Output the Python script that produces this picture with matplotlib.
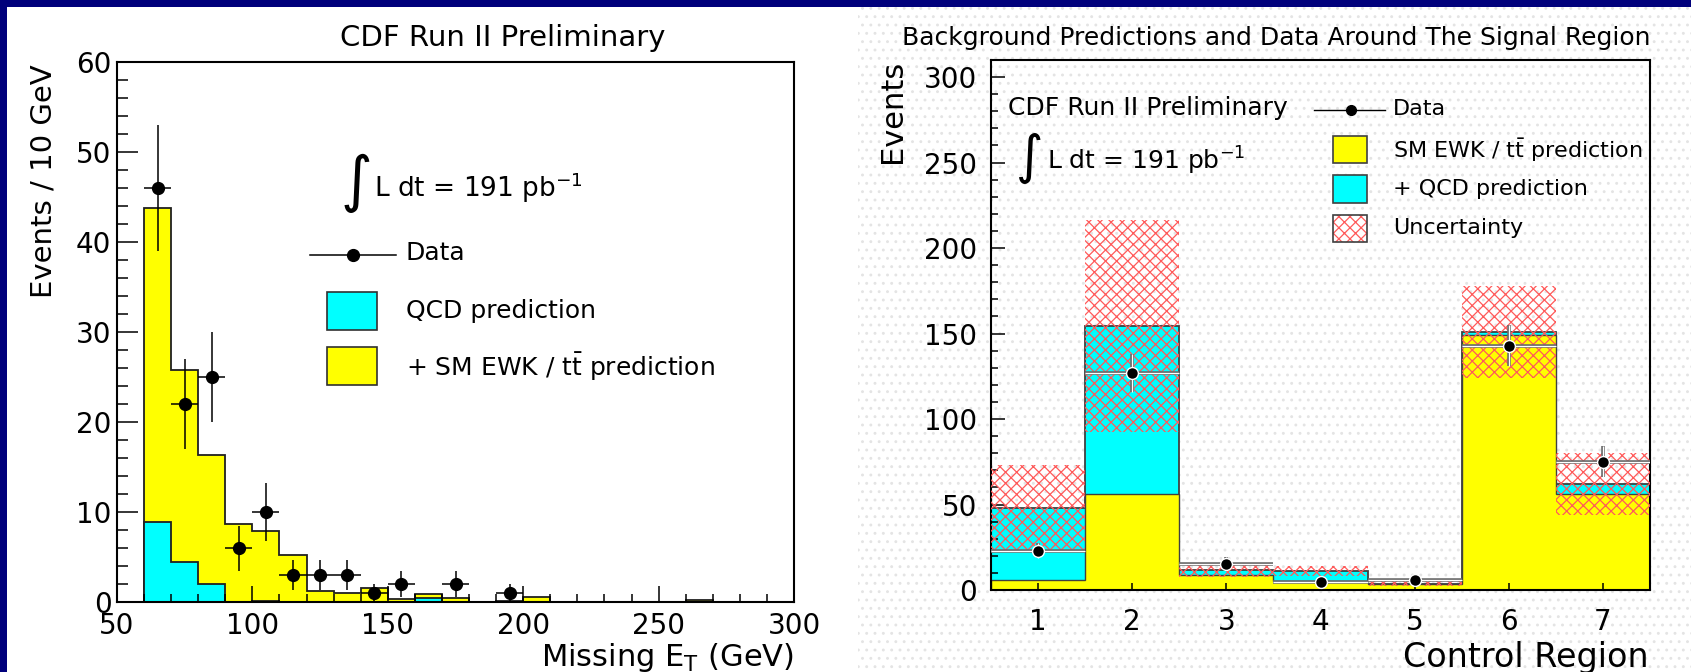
import numpy as np
import matplotlib
matplotlib.use("Agg")
import matplotlib.pyplot as plt
from matplotlib.patches import Rectangle
from matplotlib.lines import Line2D
from matplotlib.ticker import MultipleLocator

W, H = 1691, 672

# left panel: missing ET, 10 GeV bins from 60 to 300
met_edges = np.arange(60, 301, 10)
met_total = [43.8, 25.8, 16.3, 8.7, 7.9, 5.2, 1.2, 1.0, 1.6, 0.3, 0.9, 0.5,
             0, 0.1, 0.6, 0, 0, 0, 0, 0, 0.2, 0, 0, 0]
met_qcd = [8.9, 4.5, 2.0, 0, 0.1, 0, 0, 0, 0, 0, 0.4, 0,
           0, 0, 0, 0, 0, 0, 0, 0, 0, 0, 0, 0]
met_x = [65, 75, 85, 95, 105, 115, 125, 135, 145, 155, 175, 195]
met_y = [46, 22, 25, 6, 10, 3, 3, 3, 1, 2, 2, 1]
met_err = [7, 5, 5, 2.5, 3.2, 1.7, 1.7, 1.7, 1, 1.4, 1.4, 1]

# right panel: control regions
cr = [1, 2, 3, 4, 5, 6, 7]
cr_edges = [0.5, 1.5, 2.5, 3.5, 4.5, 5.5, 6.5, 7.5]
cr_ewk = [6, 56, 8.5, 5.5, 3.5, 149, 56]
cr_total = [48, 154.5, 11.5, 11, 3.8, 151, 62]
cr_unc = [25, 62, 4, 3, 1.2, 27, 18]
cr_data = [23, 127, 15.5, 4.5, 6, 143, 75]
cr_err = [4.5, 11, 4, 2, 2.5, 12, 9]

YEL = "#ffff00"
CYA = "#00ffff"
HATCH = "#ff5a5a"
plt.rcParams["hatch.linewidth"] = 0.9


def fx(x):
    return x / W


def fy(y):
    return 1 - y / H


fig = plt.figure(figsize=(W / 100, H / 100), dpi=100, facecolor="#00007b")
fig.patches.append(Rectangle((fx(7), 0), fx(858 - 7), fy(7), transform=fig.transFigure,
                             facecolor="white", lw=0, zorder=-2))
fig.patches.append(Rectangle((fx(858), 0), 1 - fx(858), fy(7), transform=fig.transFigure,
                             facecolor="white", edgecolor="#e4e4e4", hatch="..", lw=0, zorder=-2))

# ---------------- left panel ----------------
axL = fig.add_axes([fx(117), fy(602), fx(794 - 117), (602 - 62) / H])
axL.stairs(met_total, met_edges, fill=True, color=YEL, lw=0)
axL.stairs(met_total, met_edges, color="#202020", lw=1.3)
axL.stairs(met_qcd, met_edges, fill=True, color=CYA, lw=0)
axL.stairs(met_qcd, met_edges, color="#202020", lw=1.3)
axL.errorbar(met_x, met_y, yerr=met_err, xerr=5, fmt="o", color="black", ms=8.5,
             elinewidth=1.1, capsize=0, zorder=5)
axL.set_xlim(50, 300)
axL.set_ylim(0, 60)
axL.xaxis.set_major_locator(MultipleLocator(50))
axL.xaxis.set_minor_locator(MultipleLocator(10))
axL.yaxis.set_major_locator(MultipleLocator(10))
axL.yaxis.set_minor_locator(MultipleLocator(2))
axL.tick_params(direction="in", which="both", top=False, right=False, labelsize=20, width=1.1)
axL.tick_params(axis="y", which="major", length=15, pad=4)
axL.tick_params(axis="y", which="minor", length=8)
axL.tick_params(axis="x", which="major", length=11.5, pad=7)
axL.tick_params(axis="x", which="minor", length=6)
for s in axL.spines.values():
    s.set_linewidth(1.5)

fig.text(fx(503), fy(38), "CDF Run II Preliminary", fontsize=21, ha="center", va="center")
fig.text(fx(43.5), fy(64), "Events / 10 GeV", fontsize=21, rotation=90, ha="center", va="top")
fig.text(fx(794), fy(657), r"Missing E$_{\mathrm{T}}$ (GeV)", fontsize=22, ha="right", va="center")

fig.text(fx(356), fy(183), "\u222b", fontsize=44, ha="center", va="center")
fig.text(fx(374), fy(197), r"L dt = 191 pb$^{-1}$", fontsize=19, ha="left", va="baseline")
fig.add_artist(Line2D([fx(310), fx(396)], [fy(255), fy(255)], color="black", lw=1.1))
fig.add_artist(Line2D([fx(353)], [fy(255)], marker="o", color="black", ms=8.5))
fig.text(fx(406), fy(253), "Data", fontsize=18, ha="left", va="center")
fig.patches.append(Rectangle((fx(327), fy(330)), fx(50), 38 / H, transform=fig.transFigure,
                             facecolor=CYA, edgecolor="#303030", lw=1.2))
fig.text(fx(406), fy(311), "QCD prediction", fontsize=18, ha="left", va="center")
fig.patches.append(Rectangle((fx(327), fy(385)), fx(50), 38 / H, transform=fig.transFigure,
                             facecolor=YEL, edgecolor="#303030", lw=1.2))
fig.text(fx(406), fy(367), r"+ SM EWK / t$\bar{\mathrm{t}}$ prediction", fontsize=18,
         ha="left", va="center")

# ---------------- right panel ----------------
axR = fig.add_axes([fx(991), fy(590), fx(1650 - 991), (590 - 60) / H], facecolor="none")
axR.stairs(cr_total, cr_edges, fill=True, color=CYA, lw=0)
axR.stairs(cr_total, cr_edges, color="#404040", lw=1.3)
axR.stairs(cr_ewk, cr_edges, fill=True, color=YEL, lw=0)
axR.stairs(cr_ewk, cr_edges, color="#404040", lw=1.0)
lo = np.array(cr_total) - np.array(cr_unc)
axR.bar(cr, 2 * np.array(cr_unc), bottom=lo, width=1, fill=False, hatch="xxx",
        edgecolor=HATCH, lw=0, zorder=3)
axR.errorbar(cr, cr_data, yerr=cr_err, xerr=0.5, fmt="none", ecolor="#6a6a6a",
             elinewidth=2.6, capsize=0, zorder=4)
axR.errorbar(cr, cr_data, yerr=cr_err, xerr=0.5, fmt="none", ecolor="white",
             elinewidth=0.9, capsize=0, zorder=4)
axR.plot(cr, cr_data, "o", color="black", ms=8.5, mec="white", mew=1, zorder=5)
axR.set_xlim(0.5, 7.5)
axR.set_ylim(0, 310)
axR.set_xticks(cr)
axR.yaxis.set_major_locator(MultipleLocator(50))
axR.yaxis.set_minor_locator(MultipleLocator(10))
axR.tick_params(direction="in", which="both", top=False, right=False, labelsize=20, width=1.1)
axR.tick_params(axis="y", which="major", length=10, pad=10)
axR.tick_params(axis="y", which="minor", length=5)
axR.tick_params(axis="x", which="major", length=5, pad=13)
for s in axR.spines.values():
    s.set_linewidth(1.5)

fig.text(fx(1276.5), fy(38), "Background Predictions and Data Around The Signal Region",
         fontsize=18, ha="center", va="center")
fig.text(fx(893), fy(60), "Events", fontsize=22, rotation=90, ha="center", va="top")
fig.text(fx(1649), fy(657), "Control Region", fontsize=24, ha="right", va="center")

fig.text(fx(1008.5), fy(108), "CDF Run II Preliminary", fontsize=18, ha="left", va="center")
fig.text(fx(1030), fy(158), "\u222b", fontsize=38, ha="center", va="center")
fig.text(fx(1047), fy(170), r"L dt = 191 pb$^{-1}$", fontsize=18, ha="left", va="baseline")
fig.add_artist(Line2D([fx(1314), fx(1385)], [fy(110), fy(110)], color="black", lw=1.0))
fig.add_artist(Line2D([fx(1351)], [fy(110)], marker="o", color="black", ms=7))
fig.text(fx(1393), fy(109), "Data", fontsize=16, ha="left", va="center")
fig.patches.append(Rectangle((fx(1333), fy(163)), fx(34), 27 / H, transform=fig.transFigure,
                             facecolor=YEL, edgecolor="#404040", lw=1.2))
fig.text(fx(1393), fy(150), r"SM EWK / t$\bar{\mathrm{t}}$ prediction", fontsize=16,
         ha="left", va="center")
fig.patches.append(Rectangle((fx(1333), fy(203)), fx(34), 28 / H, transform=fig.transFigure,
                             facecolor=CYA, edgecolor="#404040", lw=1.2))
fig.text(fx(1393), fy(189), "+ QCD prediction", fontsize=16, ha="left", va="center")
fig.patches.append(Rectangle((fx(1333), fy(242)), fx(34), 27 / H, transform=fig.transFigure,
                             facecolor="white", edgecolor=HATCH, hatch="xxx", lw=0))
fig.patches.append(Rectangle((fx(1333), fy(242)), fx(34), 27 / H, transform=fig.transFigure,
                             facecolor="none", edgecolor="#404040", lw=1.2))
fig.text(fx(1393), fy(228), "Uncertainty", fontsize=16, ha="left", va="center")

fig.savefig("out.png", dpi=100, facecolor=fig.get_facecolor())
